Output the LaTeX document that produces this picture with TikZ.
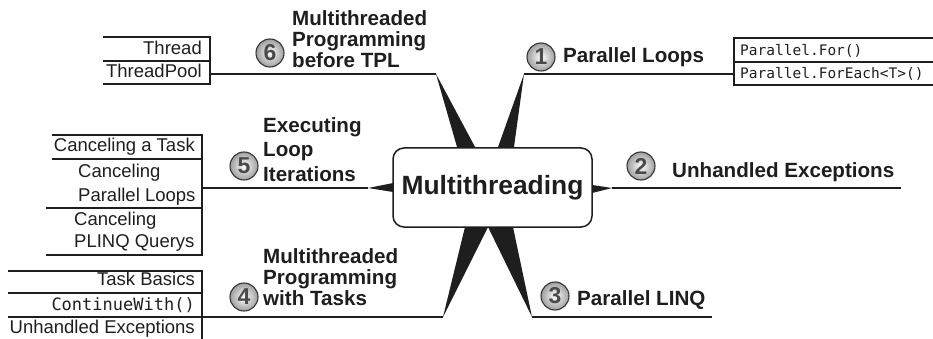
\documentclass[tikz,border=0pt]{standalone}
\usepackage{fontspec}
\setmainfont{Liberation Sans}
\newfontfamily\monof{DejaVu Sans Mono}
\definecolor{ink}{HTML}{1E1E1E}
\definecolor{numc}{HTML}{4A4A4A}
\begin{document}
\begin{tikzpicture}[x=1pt,y=-1pt,
  conn/.style={draw=ink,line width=1.4pt},
  grid/.style={draw=ink,line width=1.4pt},
  spike/.style={fill=ink},
  topic/.style={inner sep=0pt,anchor=base west,text=ink,font=\fontsize{20.6}{21}\selectfont\bfseries},
  leaf/.style={inner sep=0pt,text=ink,font=\fontsize{18.5}{19}\selectfont},
  code/.style={inner sep=0pt,text=ink,font=\monof\fontsize{14.5}{15}\selectfont},
  codeb/.style={inner sep=0pt,text=ink,font=\monof\fontsize{17}{18}\selectfont},
  num/.style={circle,minimum size=28pt,inner sep=0pt,draw=ink!90,line width=1.1pt,inner color=white,outer color=black!38,text=numc,font=\fontsize{23}{23}\selectfont\bfseries},
  hub/.style={draw=ink,line width=1.5pt,rounded corners=11pt,fill=white,minimum width=199pt,minimum height=79pt,inner sep=0pt,text=ink,font=\fontsize{26.4}{27}\selectfont\bfseries}]
\useasboundingbox (0,0) rectangle (933,339);

% apex coordinates
\coordinate (a6) at (436,74);
\coordinate (a1) at (524,74);
\coordinate (a2) at (612,188);
\coordinate (a5) at (368,188);
\coordinate (a4) at (443,317);
\coordinate (a3) at (532,317);

% spikes (drawn below the hub)
\fill[spike] (a6) -- (459.3,155) -- (479.3,155) -- cycle;
\fill[spike] (a1) -- (495.2,155) -- (512.9,155) -- cycle;
\fill[spike] (a4) -- (466.7,220) -- (491.5,220) -- cycle;
\fill[spike] (a3) -- (484.6,220) -- (511.5,220) -- cycle;
\fill[spike] (a5) -- (400,181.6) -- (400,193.1) -- cycle;
\fill[spike] (a2) -- (585,183.9) -- (585,194.8) -- cycle;

% hub
\node[hub] (hub) at (492.5,187.5) {Multithreading};

% ---- topic 6
\draw[grid] (103,37) -- (210,37) -- (210,84) -- (103,84);
\draw[grid] (103,61) -- (210,61);
\node[leaf,anchor=base east] (thr) at (202,55) {Thread};
\node[leaf,anchor=base east] (thp) at (202,78) {ThreadPool};
\coordinate (b6) at (210,74);
\draw[conn] (b6) -- (a6);
\node[num] (n6) at (270,53) {6};
\node[topic] (t6a) at (292,26) {Multithreaded};
\node[topic] (t6b) at (292,47) {Programming};
\node[topic] (t6c) at (292,68) {before TPL};

% ---- topic 1
\draw[grid] (933,38) -- (734,38) -- (734,85) -- (933,85);
\draw[grid] (734,62) -- (933,62);
\node[code,anchor=base west] (pf) at (740,56) {Parallel.For()};
\node[code,anchor=base west] (pfe) at (740,79) {Parallel.ForEach<T>()};
\coordinate (b1) at (734,74);
\draw[conn] (a1) -- (b1);
\node[num] (n1) at (541,57) {1};
\node[topic] (t1) at (563,63) {Parallel Loops};

% ---- topic 2
\coordinate (b2) at (901,188);
\draw[conn] (a2) -- (b2);
\node[num] (n2) at (641,166) {2};
\node[topic] (t2) at (672,177) {Unhandled Exceptions};

% ---- topic 3
\coordinate (b3) at (712,317);
\draw[conn] (a3) -- (b3);
\node[num] (n3) at (555,296) {3};
\node[topic] (t3) at (577,305) {Parallel LINQ};

% ---- topic 5
\draw[grid] (52,135) -- (202,135) -- (202,255) -- (46,255);
\draw[grid] (52,159) -- (202,159);
\draw[grid] (46,208) -- (202,208);
\node[leaf,anchor=base east] (ct) at (195,152) {Canceling a Task};
\node[leaf,anchor=base west] (cpa) at (78,177) {Canceling};
\node[leaf,anchor=base west] (cpb) at (78,201) {Parallel Loops};
\node[leaf,anchor=base west] (cqa) at (74,225) {Canceling};
\node[leaf,anchor=base west] (cqb) at (74,247) {PLINQ Querys};
\coordinate (b5) at (202,188);
\draw[conn] (b5) -- (a5);
\node[num] (n5) at (244,166) {5};
\node[topic] (t5a) at (263,133) {Executing};
\node[topic] (t5b) at (263,157) {Loop};
\node[topic] (t5c) at (263,181) {Iterations};

% ---- topic 4
\draw[grid] (8,271) -- (202,271) -- (202,339);
\draw[grid] (8,293) -- (202,293);
\draw[grid] (8,317) -- (202,317);
\node[leaf,anchor=base east] (tb) at (195,285) {Task Basics};
\node[codeb,anchor=base east] (cw) at (195,310) {ContinueWith()};
\node[leaf,anchor=base east] (ue) at (195,333) {Unhandled Exceptions};
\coordinate (b4) at (202,317);
\draw[conn] (b4) -- (a4);
\node[num] (n4) at (244,297) {4};
\node[topic] (t4a) at (263,263) {Multithreaded};
\node[topic] (t4b) at (263,284) {Programming};
\node[topic] (t4c) at (263,305) {with Tasks};
\end{tikzpicture}
\end{document}
